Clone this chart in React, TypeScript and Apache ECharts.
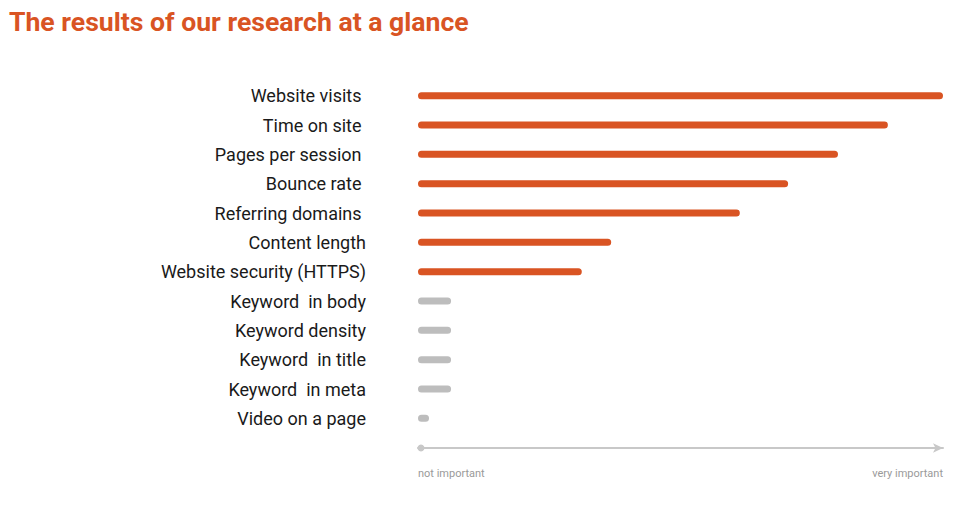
import React, { useEffect, useRef } from "react";
import * as echarts from "echarts";

const title = "The results of our research at a glance";
const categories = [
  "Website visits ",
  "Time on site ",
  "Pages per session ",
  "Bounce rate ",
  "Referring domains ",
  "Content length",
  "Website security (HTTPS)",
  "Keyword  in body",
  "Keyword density",
  "Keyword  in title",
  "Keyword  in meta",
  "Video on a page",
];
const values = [100, 89.5, 80, 70.5, 61.3, 36.8, 31.2, 6.3, 6.3, 6.3, 6.3, 2.1];
const important = [true, true, true, true, true, true, true, false, false, false, false, false];
const axisEndLabels = ["not important", "very important"];

const ORANGE = "#D95423";
const GRAY = "#BDBDBD";

export default function App() {
  const ref = useRef<HTMLDivElement>(null);
  useEffect(() => {
    if (!ref.current) return;
    const chart = echarts.init(ref.current, null, { renderer: "svg" });
    chart.setOption({
      animation: false,
      backgroundColor: "#ffffff",
      title: {
        text: title,
        left: 4,
        top: 3,
        textStyle: {
          fontFamily: "Roboto",
          fontWeight: "bold",
          fontSize: 26.6,
          color: ORANGE,
        },
      },
      grid: { left: 418, right: 22, top: 81, bottom: 93, containLabel: false },
      xAxis: {
        type: "value",
        min: 0,
        max: 100,
        interval: 100,
        offset: 15,
        splitLine: { show: false },
        axisTick: { show: false },
        axisLine: {
          show: true,
          lineStyle: { color: "#C8C8C8", width: 2 },
          symbol: ["circle", "arrow"],
          symbolSize: [7, 10],
          symbolOffset: [3, 0],
        },
        axisLabel: {
          margin: 20,
          fontFamily: "Roboto",
          fontSize: 11,
          color: "#9A9A9A",
          alignMinLabel: "left",
          alignMaxLabel: "right",
          formatter: (v: number) => (v === 0 ? axisEndLabels[0] : axisEndLabels[1]),
        },
      },
      yAxis: {
        type: "category",
        data: categories,
        inverse: true,
        axisLine: { show: false },
        axisTick: { show: false },
        axisLabel: {
          margin: 52,
          fontFamily: "Roboto",
          fontSize: 18,
          color: "#1a1a1a",
        },
      },
      series: [
        {
          type: "bar",
          barWidth: 7,
          data: values.map((v, i) => ({
            value: v,
            itemStyle: { color: important[i] ? ORANGE : GRAY, borderRadius: 3.5 },
          })),
        },
      ],
    });
    return () => chart.dispose();
  }, []);
  return <div ref={ref} style={{ width: 965, height: 526, position: "absolute", left: 0, top: 0 }} />;
}
